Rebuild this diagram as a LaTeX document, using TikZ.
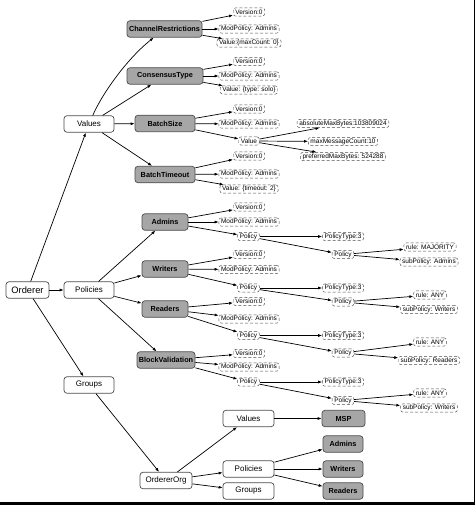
\documentclass[tikz,border=0pt]{standalone}
\usepackage{fontspec}
\setmainfont{Liberation Sans}
\usetikzlibrary{arrows.meta}

\begin{document}
\begin{tikzpicture}[x=1pt, y=-1pt]

% Styles
\tikzset{
    boxstyle/.style={rectangle, rounded corners=3pt, draw=black!70, line width=0.7pt, minimum height=16.5pt, inner sep=1pt, font=\fontsize{8}{9}\selectfont},
    plain/.style={boxstyle, fill=white},
    group/.style={boxstyle, fill=black!35, font=\fontsize{7.3}{9}\selectfont\bfseries},
    leaf/.style={rectangle, rounded corners=2.5pt, draw=black!70, densely dashed, line width=0.45pt, inner xsep=2.2pt, inner ysep=0.8pt, minimum height=8.3pt, font=\fontsize{6.5}{7}\selectfont},
    arrow/.style={-{Latex[length=4pt, width=3pt]}, line width=0.7pt}
}

\useasboundingbox (0,0) rectangle (475,505);

% Root and first level
\node[plain, minimum width=43pt, font=\fontsize{9.3}{10}\selectfont] (orderer) at (27.5,290) {Orderer};
\node[plain, minimum width=50pt] (vals) at (89,124) {Values};
\node[plain, minimum width=50pt] (pols) at (89,290) {Policies};
\node[plain, minimum width=50pt] (grps) at (89,385) {Groups};

% Values
\node[group, minimum width=75pt] (chanres) at (164.5,29) {ChannelRestrictions};
\node[group, minimum width=76pt] (constype) at (165,76) {ConsensusType};
\node[group, minimum width=60pt] (bsize) at (165,123.5) {BatchSize};
\node[group, minimum width=60pt] (btimeout) at (165,174.5) {BatchTimeout};

% Policies
\node[group, minimum width=46pt] (padmins) at (165,222) {Admins};
\node[group, minimum width=46pt] (pwriters) at (165,269) {Writers};
\node[group, minimum width=46pt] (preaders) at (165,309) {Readers};
\node[group, minimum width=58pt] (pblockval) at (166,360) {BlockValidation};

% Groups
\node[plain, minimum width=52pt] (org) at (166,480.5) {OrdererOrg};
\node[plain, minimum width=51pt] (orgvals) at (248.5,418.5) {Values};
\node[plain, minimum width=51pt] (orgpols) at (248.5,469) {Policies};
\node[plain, minimum width=51pt] (orggrps) at (248.5,491) {Groups};
\node[group, minimum width=43pt] (msp) at (343.5,418.5) {MSP};
\node[group, minimum width=40pt] (orgadmins) at (343,444) {Admins};
\node[group, minimum width=40pt] (orgwriters) at (343,469) {Writers};
\node[group, minimum width=40pt] (orgreaders) at (343,491) {Readers};

% Value leaves
\foreach \p/\yv/\ym/\yx/\val in {chanres/12/29/43/{Value:\{maxCount: 0\}}, constype/61.5/76/90/{Value: \{type: solo\}}, bsize/109/124/141/Value, btimeout/156/174/189/{Value: \{timeout: 2\}}} {
    \node[leaf] (\p-ver) at (249,\yv) {Version:0};
    \node[leaf] (\p-mod) at (249,\ym) {ModPolicy: Admins};
    \node[leaf] (\p-val) at (249,\yx) {\val};
    \draw[arrow] (\p) -- (\p-ver);
    \draw[arrow] (\p) -- (\p-mod);
    \draw[arrow] (\p) -- (\p-val);
}
\node[leaf] (absmax) at (343,123.5) {absoluteMaxBytes:103809024};
\node[leaf] (maxmsg) at (343,141.5) {maxMessageCount:10};
\node[leaf] (prefmax) at (343,156.5) {preferredMaxBytes: 524288};
\foreach \b in {absmax,maxmsg,prefmax} {
    \draw[arrow] (bsize-val) -- (\b);
}

% Policy leaves
\foreach \p/\yv/\ym/\yp/\yq/\yr/\ys/\rl/\sp in {padmins/207/222/236.5/254.5/247/262/MAJORITY/Admins, pwriters/254.5/269.5/288/302/295/309.5/ANY/Writers, preaders/301.5/319/335.5/353/342/360.5/ANY/Readers, pblockval/353.5/367/382/400.5/393/408/ANY/Writers} {
    \node[leaf] (\p-ver) at (249,\yv) {Version:0};
    \node[leaf] (\p-mod) at (249,\ym) {ModPolicy: Admins};
    \node[leaf] (\p-pol) at (248.5,\yp) {Policy};
    \node[leaf] (\p-type) at (343,\yp) {PolicyType:3};
    \node[leaf] (\p-sub) at (343,\yq) {Policy};
    \node[leaf] (\p-rule) at (430,\yr) {rule: \rl};
    \node[leaf] (\p-subp) at (429,\ys) {subPolicy: \sp};
    \draw[arrow] (\p) -- (\p-ver);
    \draw[arrow] (\p) -- (\p-mod);
    \draw[arrow] (\p) -- (\p-pol);
    \draw[arrow] (\p-pol) -- (\p-type);
    \draw[arrow] (\p-pol) -- (\p-sub);
    \draw[arrow] (\p-sub) -- (\p-rule);
    \draw[arrow] (\p-sub) -- (\p-subp);
}

% Arrows
\draw[arrow] (orderer) -- (vals);
\draw[arrow] (orderer) -- (pols);
\draw[arrow] (orderer) -- (grps);
\draw[arrow] (vals) .. controls (103,92) and (128,58) .. (chanres);
\foreach \c in {constype,bsize,btimeout} {
    \draw[arrow] (vals) -- (\c);
}
\foreach \c in {padmins,pwriters,preaders,pblockval} {
    \draw[arrow] (pols) -- (\c);
}
\draw[arrow] (grps) -- (org);
\foreach \c in {orgvals,orgpols,orggrps} {
    \draw[arrow] (org) -- (\c);
}
\draw[arrow] (orgvals) -- (msp);
\foreach \c in {orgadmins,orgwriters,orgreaders} {
    \draw[arrow] (orgpols) -- (\c);
}

% Frame
\draw[line width=1pt] (474.5,0) -- (474.5,505);
\draw[line width=3.4pt] (0,503.3) -- (475,503.3);

\end{tikzpicture}
\end{document}
